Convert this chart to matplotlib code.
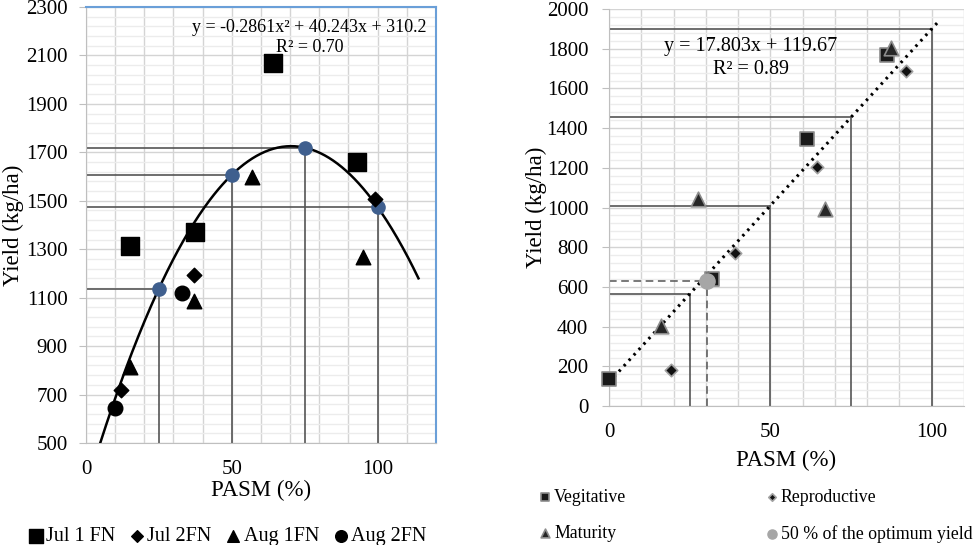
import numpy as np
import matplotlib
matplotlib.use("Agg")
import matplotlib.pyplot as plt
from matplotlib.ticker import MultipleLocator, FixedLocator

plt.rcParams['font.family'] = ['Liberation Serif', 'DejaVu Serif']

# left chart data (PASM %, yield kg/ha)
jul1_x = [15, 37.5, 64, 93]
jul1_y = [1313, 1370, 2070, 1660]
jul2_x = [12, 37, 99]
jul2_y = [718, 1195, 1507]
aug1_x = [15, 37, 57, 95]
aug1_y = [812, 1088, 1598, 1267]
aug2_x = [10, 33]
aug2_y = [646, 1120]
quad_coef = [-0.2861, 40.243, 310.2]
quad_marks = [25, 50, 75, 100]
left_yticks = [500, 700, 900, 1100, 1300, 1500, 1700, 1900, 2100, 2300]

# right chart data
veg_x = [0, 32, 61.5, 86]
veg_y = [138, 640, 1345, 1768]
rep_x = [19.3, 39, 64.5, 92]
rep_y = [180, 772, 1203, 1688]
mat_x = [16, 27.5, 67, 87.3]
mat_y = [402, 1045, 992, 1803]
half_x = [30.5]
half_y = [628]
lin_coef = [17.803, 119.67]
lin_marks = [25, 50, 75, 100]

grid_major = '#d4d4d4'
grid_minor = '#ececec'
drop_col = '#555555'
tick_fs = 15
label_fs = 16.5

fig = plt.figure(figsize=(9.76, 5.45), dpi=100)

# ---------- left panel ----------
ax1 = fig.add_axes([0.0881, 0.1872, 0.3586, 0.800])
ax1.set_xlim(0, 120)
ax1.set_ylim(500, 2300)
ax1.xaxis.set_major_locator(MultipleLocator(50))
ax1.xaxis.set_minor_locator(MultipleLocator(10))
ax1.yaxis.set_major_locator(FixedLocator(left_yticks))
ax1.yaxis.set_minor_locator(FixedLocator(np.arange(500, 2301, 40)))
ax1.grid(which='major', color=grid_major, lw=1)
ax1.grid(which='minor', color=grid_minor, lw=1)
ax1.grid(which='minor', axis='x', color=grid_major, lw=1)
ax1.set_axisbelow(True)
for s in ['left', 'bottom']:
    ax1.spines[s].set_color('#bfbfbf')
for s in ['top', 'right']:
    ax1.spines[s].set_color('#6a9fd8')
    ax1.spines[s].set_linewidth(1.5)
ax1.tick_params(axis='y', which='major', length=5, color='#bfbfbf', labelsize=tick_fs, pad=8)
ax1.tick_params(axis='x', which='major', length=0, labelsize=tick_fs, pad=12)
ax1.tick_params(which='minor', length=0)

poly = np.poly1d(quad_coef)
for xm in quad_marks:
    ym = poly(xm)
    ax1.plot([xm, xm], [500, ym], color=drop_col, lw=1.2, zorder=2)
    ax1.plot([0, xm], [ym, ym], color=drop_col, lw=1.2, zorder=2)
xc = np.linspace(4.8, 114, 300)
ax1.plot(xc, poly(xc), color='black', lw=1.8, zorder=3)
ax1.scatter(quad_marks, poly(np.array(quad_marks)), s=90, color='#3f5f8e', zorder=4)

ax1.scatter(jul1_x, jul1_y, marker='s', s=150, color='black', zorder=5, label='Jul 1 FN')
ax1.scatter(jul2_x, jul2_y, marker='D', s=55, color='black', zorder=5, label='Jul 2FN')
ax1.scatter(aug1_x, aug1_y, marker='^', s=110, color='black', zorder=5, label='Aug 1FN')
ax1.scatter(aug2_x, aug2_y, marker='o', s=110, color='black', zorder=5, label='Aug 2FN')

ax1.text(76.5, 2217, 'y = -0.2861x² + 40.243x + 310.2', ha='center', va='center', fontsize=13)
ax1.text(76.7, 2132, 'R² = 0.70', ha='center', va='center', fontsize=13)
ax1.set_xlabel('PASM (%)', fontsize=label_fs, labelpad=1)
ax1.set_ylabel('Yield (kg/ha)', fontsize=label_fs, labelpad=2)
ax1.legend(loc='upper center', bbox_to_anchor=(0.40, -0.175), ncol=4, frameon=False,
           fontsize=14.5, handletextpad=0.0, columnspacing=0.6, handlelength=1.0,
           scatterpoints=1, borderaxespad=0, markerscale=0.8)

# ---------- right panel ----------
ax2 = fig.add_axes([0.624, 0.255, 0.3637, 0.7284])
ax2.set_xlim(0, 110)
ax2.set_ylim(0, 2000)
ax2.xaxis.set_major_locator(MultipleLocator(50))
ax2.xaxis.set_minor_locator(MultipleLocator(10))
ax2.yaxis.set_major_locator(MultipleLocator(200))
ax2.yaxis.set_minor_locator(MultipleLocator(40))
ax2.grid(which='major', color=grid_major, lw=1)
ax2.grid(which='minor', color=grid_minor, lw=1)
ax2.grid(which='minor', axis='x', color=grid_major, lw=1)
ax2.set_axisbelow(True)
for s in ['top', 'right']:
    ax2.spines[s].set_visible(False)
for s in ['left', 'bottom']:
    ax2.spines[s].set_color('#bfbfbf')
ax2.tick_params(axis='y', which='major', length=5, color='#bfbfbf', labelsize=tick_fs, pad=10)
ax2.tick_params(axis='x', which='major', length=0, labelsize=tick_fs, pad=12)
ax2.tick_params(which='minor', length=0)

lin = np.poly1d(lin_coef)
for xm in lin_marks:
    ym = lin(xm)
    ax2.plot([xm, xm], [0, ym], color=drop_col, lw=1.2, zorder=2)
    ax2.plot([0, xm], [ym, ym], color=drop_col, lw=1.2, zorder=2)
ax2.plot([half_x[0], half_x[0]], [0, half_y[0]], color=drop_col, lw=1.1, ls=(0, (5, 3)), zorder=2)
ax2.plot([0, half_x[0]], [half_y[0], half_y[0]], color=drop_col, lw=1.1, ls=(0, (5, 3)), zorder=2)
xl = np.linspace(0, 101.8, 100)
ax2.plot(xl, lin(xl), color='black', lw=2.2, ls=(0, (0.8, 1.6)), zorder=3)

h_veg = ax2.scatter(veg_x, veg_y, marker='s', s=110, color='#1a1a1a', edgecolors='#8c8c8c', lw=1.2,
                    zorder=5, clip_on=False, label='Vegitative')
h_rep = ax2.scatter(rep_x, rep_y, marker='D', s=40, color='#111111', edgecolors='#a0a0a0', lw=1.2,
                    zorder=5, label='Reproductive')
h_mat = ax2.scatter(mat_x, mat_y, marker='^', s=110, color='#262626', edgecolors='#8c8c8c', lw=1.2,
                    zorder=5, label='Maturity')
h_half = ax2.scatter(half_x, half_y, marker='o', s=120, color='#a6a6a6', zorder=6,
                     label='50 % of the optimum yield')

ax2.text(43.9, 1809, 'y = 17.803x + 119.67', ha='center', va='center', fontsize=14.5)
ax2.text(43.9, 1693, 'R² = 0.89', ha='center', va='center', fontsize=14.5)
ax2.set_xlabel('PASM (%)', fontsize=label_fs, labelpad=6)
ax2.set_ylabel('Yield (kg/ha)', fontsize=label_fs, labelpad=0)
ax2.legend([h_veg, h_mat, h_rep, h_half],
           ['Vegitative', 'Maturity', 'Reproductive', '50 % of the optimum yield'],
           loc='upper left', bbox_to_anchor=(-0.22, -0.19), ncol=2, frameon=False,
           fontsize=12.8, handletextpad=0.1, columnspacing=7.8, handlelength=0.8,
           labelspacing=1.1, scatterpoints=1, borderaxespad=0, markerscale=0.6)

fig.savefig('out.png', dpi=100)
